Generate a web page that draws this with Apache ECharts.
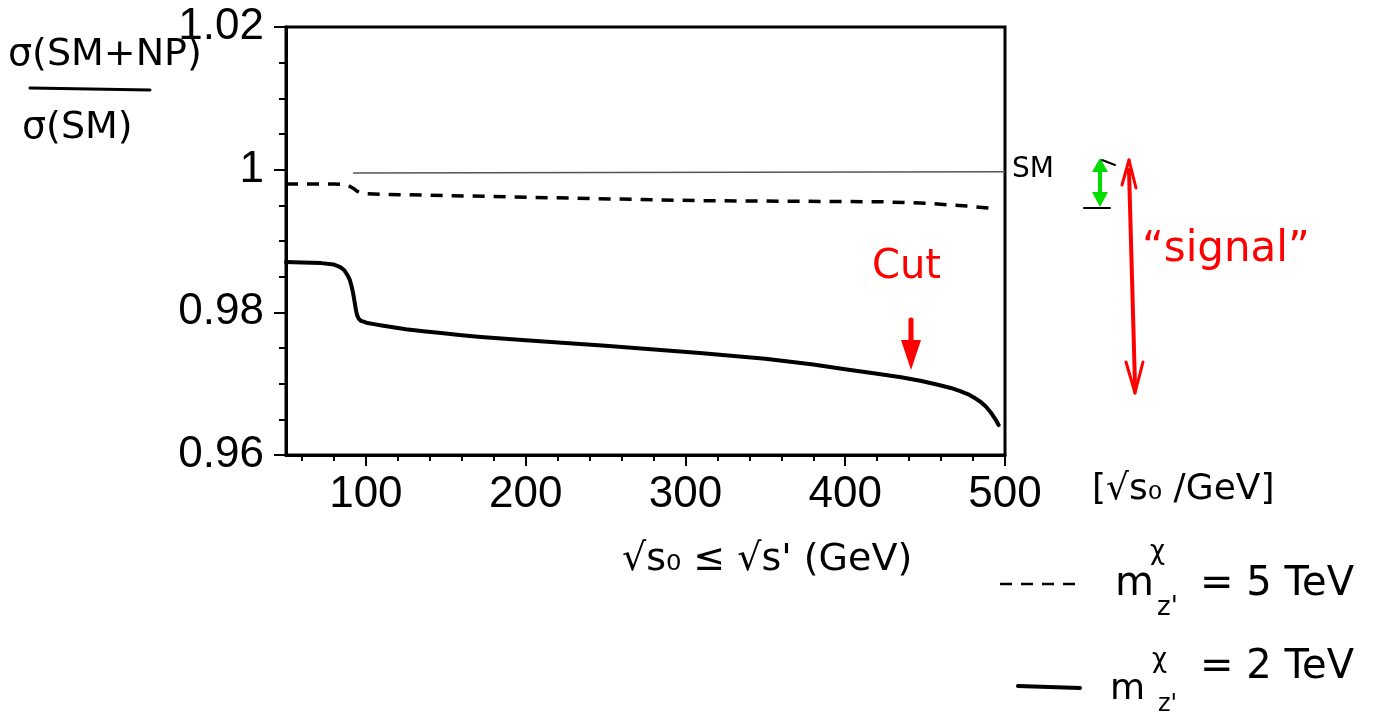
<!DOCTYPE html>
<html>
<head>
<meta charset="utf-8">
<script src="https://cdn.jsdelivr.net/npm/echarts@6/dist/echarts.min.js"></script>
<style>html,body{margin:0;padding:0;background:#fff;}#c{width:1386px;height:712px;}</style>
</head>
<body>
<div id="c"></div>
<script>
// ---- data ----
const xMajorTicks = [100, 200, 300, 400, 500];
const xMinorTicks = [60, 80, 120, 140, 160, 180, 220, 240, 260, 280, 320, 340, 360, 380, 420, 440, 460, 480];
// m_Z' = 2 TeV (solid)
const solidX = [50, 60, 72, 80, 84, 86.5, 88.5, 90, 91, 92, 93, 93.7, 94.5, 95.5, 97, 99, 101, 105, 109, 117, 125, 136, 147, 160, 172, 200, 250, 309, 350, 380, 401, 420, 435, 447, 458, 466, 472, 477, 481, 485, 488, 491, 494, 496];
const solidY = [0.98704, 0.98700, 0.98690, 0.98670, 0.98634, 0.98590, 0.98520, 0.98450, 0.98370, 0.98270, 0.98140, 0.98040, 0.97960, 0.97910, 0.97880, 0.97865, 0.97850, 0.97835, 0.97820, 0.97790, 0.97762, 0.97735, 0.97710, 0.97680, 0.97655, 0.97610, 0.97530, 0.97430, 0.97350, 0.97270, 0.97200, 0.97140, 0.97090, 0.97040, 0.96985, 0.96940, 0.96895, 0.96850, 0.96800, 0.96740, 0.96680, 0.96600, 0.96500, 0.96420];
// m_Z' = 5 TeV (dashed)
const dashX = [50, 80, 86, 89, 92, 94, 96, 100, 110, 165, 230, 309, 360, 422, 450, 476, 495];
const dashY = [0.9980, 0.9980, 0.99795, 0.9978, 0.9974, 0.99705, 0.9968, 0.99665, 0.99655, 0.9963, 0.9960, 0.99565, 0.99558, 0.9955, 0.9953, 0.9949, 0.9945];
// SM reference
const smX = [92, 500];
const smY = [0.99955, 0.9997];

const zip = (a, b) => a.map((v, i) => [v, b[i]]);

const chart = echarts.init(document.getElementById('c'), null, {renderer: 'canvas'});
const tickFont = 'Liberation Sans';
const hand = 'DejaVu Sans';
const red = '#ff0000';

function txt(text, x, y, size, color) {
  return {type: 'text', x: x, y: y, z: 50,
    style: {text: text, font: size + 'px "' + hand + '"', fill: color || '#000', textAlign: 'left', textVerticalAlign: 'middle'}};
}
function seg(x1, y1, x2, y2, color, w) {
  return {type: 'line', z: 50, shape: {x1: x1, y1: y1, x2: x2, y2: y2}, style: {stroke: color, lineWidth: w, lineCap: 'round'}};
}
function tri(points, color) {
  return {type: 'polygon', z: 50, shape: {points: points}, style: {fill: color}};
}

const option = {
  animation: false,
  backgroundColor: '#fff',
  grid: {left: 286, right: 381, top: 27, bottom: 257, show: true, borderColor: '#000', borderWidth: 3, backgroundColor: 'transparent'},
  xAxis: [{
    type: 'value', min: 50, max: 500, position: 'bottom',
    axisLine: {show: true, lineStyle: {color: '#000', width: 3}},
    axisTick: {show: true, customValues: xMajorTicks, length: 11, lineStyle: {color: '#000', width: 2}},
    axisLabel: {show: true, customValues: xMajorTicks, margin: 18, color: '#000', fontFamily: tickFont, fontSize: 44},
    splitLine: {show: false}
  }, {
    type: 'value', min: 50, max: 500, position: 'bottom', gridIndex: 0,
    axisLine: {show: false},
    axisTick: {show: true, customValues: xMinorTicks, length: 6, lineStyle: {color: '#000', width: 2}},
    axisLabel: {show: false},
    splitLine: {show: false}
  }],
  yAxis: {
    type: 'value', min: 0.96, max: 1.02, interval: 0.02,
    axisLine: {show: true, lineStyle: {color: '#000', width: 3}},
    axisTick: {show: true, length: 12, lineStyle: {color: '#000', width: 2}},
    minorTick: {show: true, splitNumber: 4, length: 7, lineStyle: {color: '#000', width: 2}},
    axisLabel: {margin: 22, color: '#000', fontFamily: tickFont, fontSize: 44,
      formatter: v => (Math.abs(v - 1) < 1e-9 ? '1' : v.toFixed(2))},
    splitLine: {show: false}
  },
  series: [
    {type: 'line', name: 'SM', data: zip(smX, smY), showSymbol: false, lineStyle: {color: '#555', width: 1.5}, z: 3},
    {type: 'line', name: "m_Z'=5TeV", data: zip(dashX, dashY), showSymbol: false, smooth: false, lineStyle: {color: '#000', width: 3.5, type: [12, 9], join: 'round'}, z: 4},
    {type: 'line', name: "m_Z'=2TeV", data: zip(solidX, solidY), showSymbol: false, smooth: false, lineStyle: {color: '#000', width: 4, join: 'round', cap: 'round'}, z: 5}
  ],
  graphic: [
    // y-axis title (fraction)
    txt('σ(SM+NP)', 8, 55, 38, '#000'),
    seg(30, 88, 150, 90, '#000', 3),
    txt('σ(SM)', 22, 128, 38, '#000'),
    // SM label
    txt('SM', 1012, 170, 28, '#000'),
    // green double arrow
    seg(1100, 168, 1100, 200, '#00dd00', 4),
    tri([[1092, 172], [1108, 172], [1100, 158]], '#00dd00'),
    tri([[1092, 192], [1108, 192], [1100, 207]], '#00dd00'),
    seg(1102, 160, 1115, 165, '#000', 2),
    seg(1084, 208, 1110, 208, '#000', 2),
    // red double arrow ("signal")
    seg(1129, 170, 1135, 385, red, 4),
    seg(1129, 160, 1122, 185, red, 3),
    seg(1129, 160, 1136, 188, red, 3),
    seg(1135, 393, 1126, 362, red, 3),
    seg(1135, 393, 1143, 362, red, 3),
    txt('“signal”', 1142, 250, 42, red),
    // Cut annotation
    txt('Cut', 872, 268, 40, red),
    seg(911, 320, 911, 345, red, 5),
    tri([[901, 340], [921, 340], [911, 370]], red),
    // axis unit labels (handwritten)
    txt('[√s₀ /GeV]', 1092, 490, 36, '#000'),
    txt("√s₀ ≤ √s' (GeV)", 622, 560, 38, '#000'),
    // legend: dashed
    {type: 'line', z: 50, shape: {x1: 1000, y1: 584, x2: 1075, y2: 584}, style: {stroke: '#000', lineWidth: 2.5, lineDash: [12, 9]}},
    txt('m', 1115, 585, 40, '#000'),
    txt('χ', 1150, 552, 26, '#000'),
    txt("z'", 1157, 608, 26, '#000'),
    txt('= 5 TeV', 1200, 585, 40, '#000'),
    // legend: solid
    seg(1018, 686, 1080, 688, '#000', 4),
    txt('m', 1110, 690, 36, '#000'),
    txt('χ', 1152, 660, 26, '#000'),
    txt("z'", 1158, 705, 24, '#000'),
    txt('= 2 TeV', 1200, 668, 40, '#000')
  ]
};
chart.setOption(option);
</script>
</body>
</html>
